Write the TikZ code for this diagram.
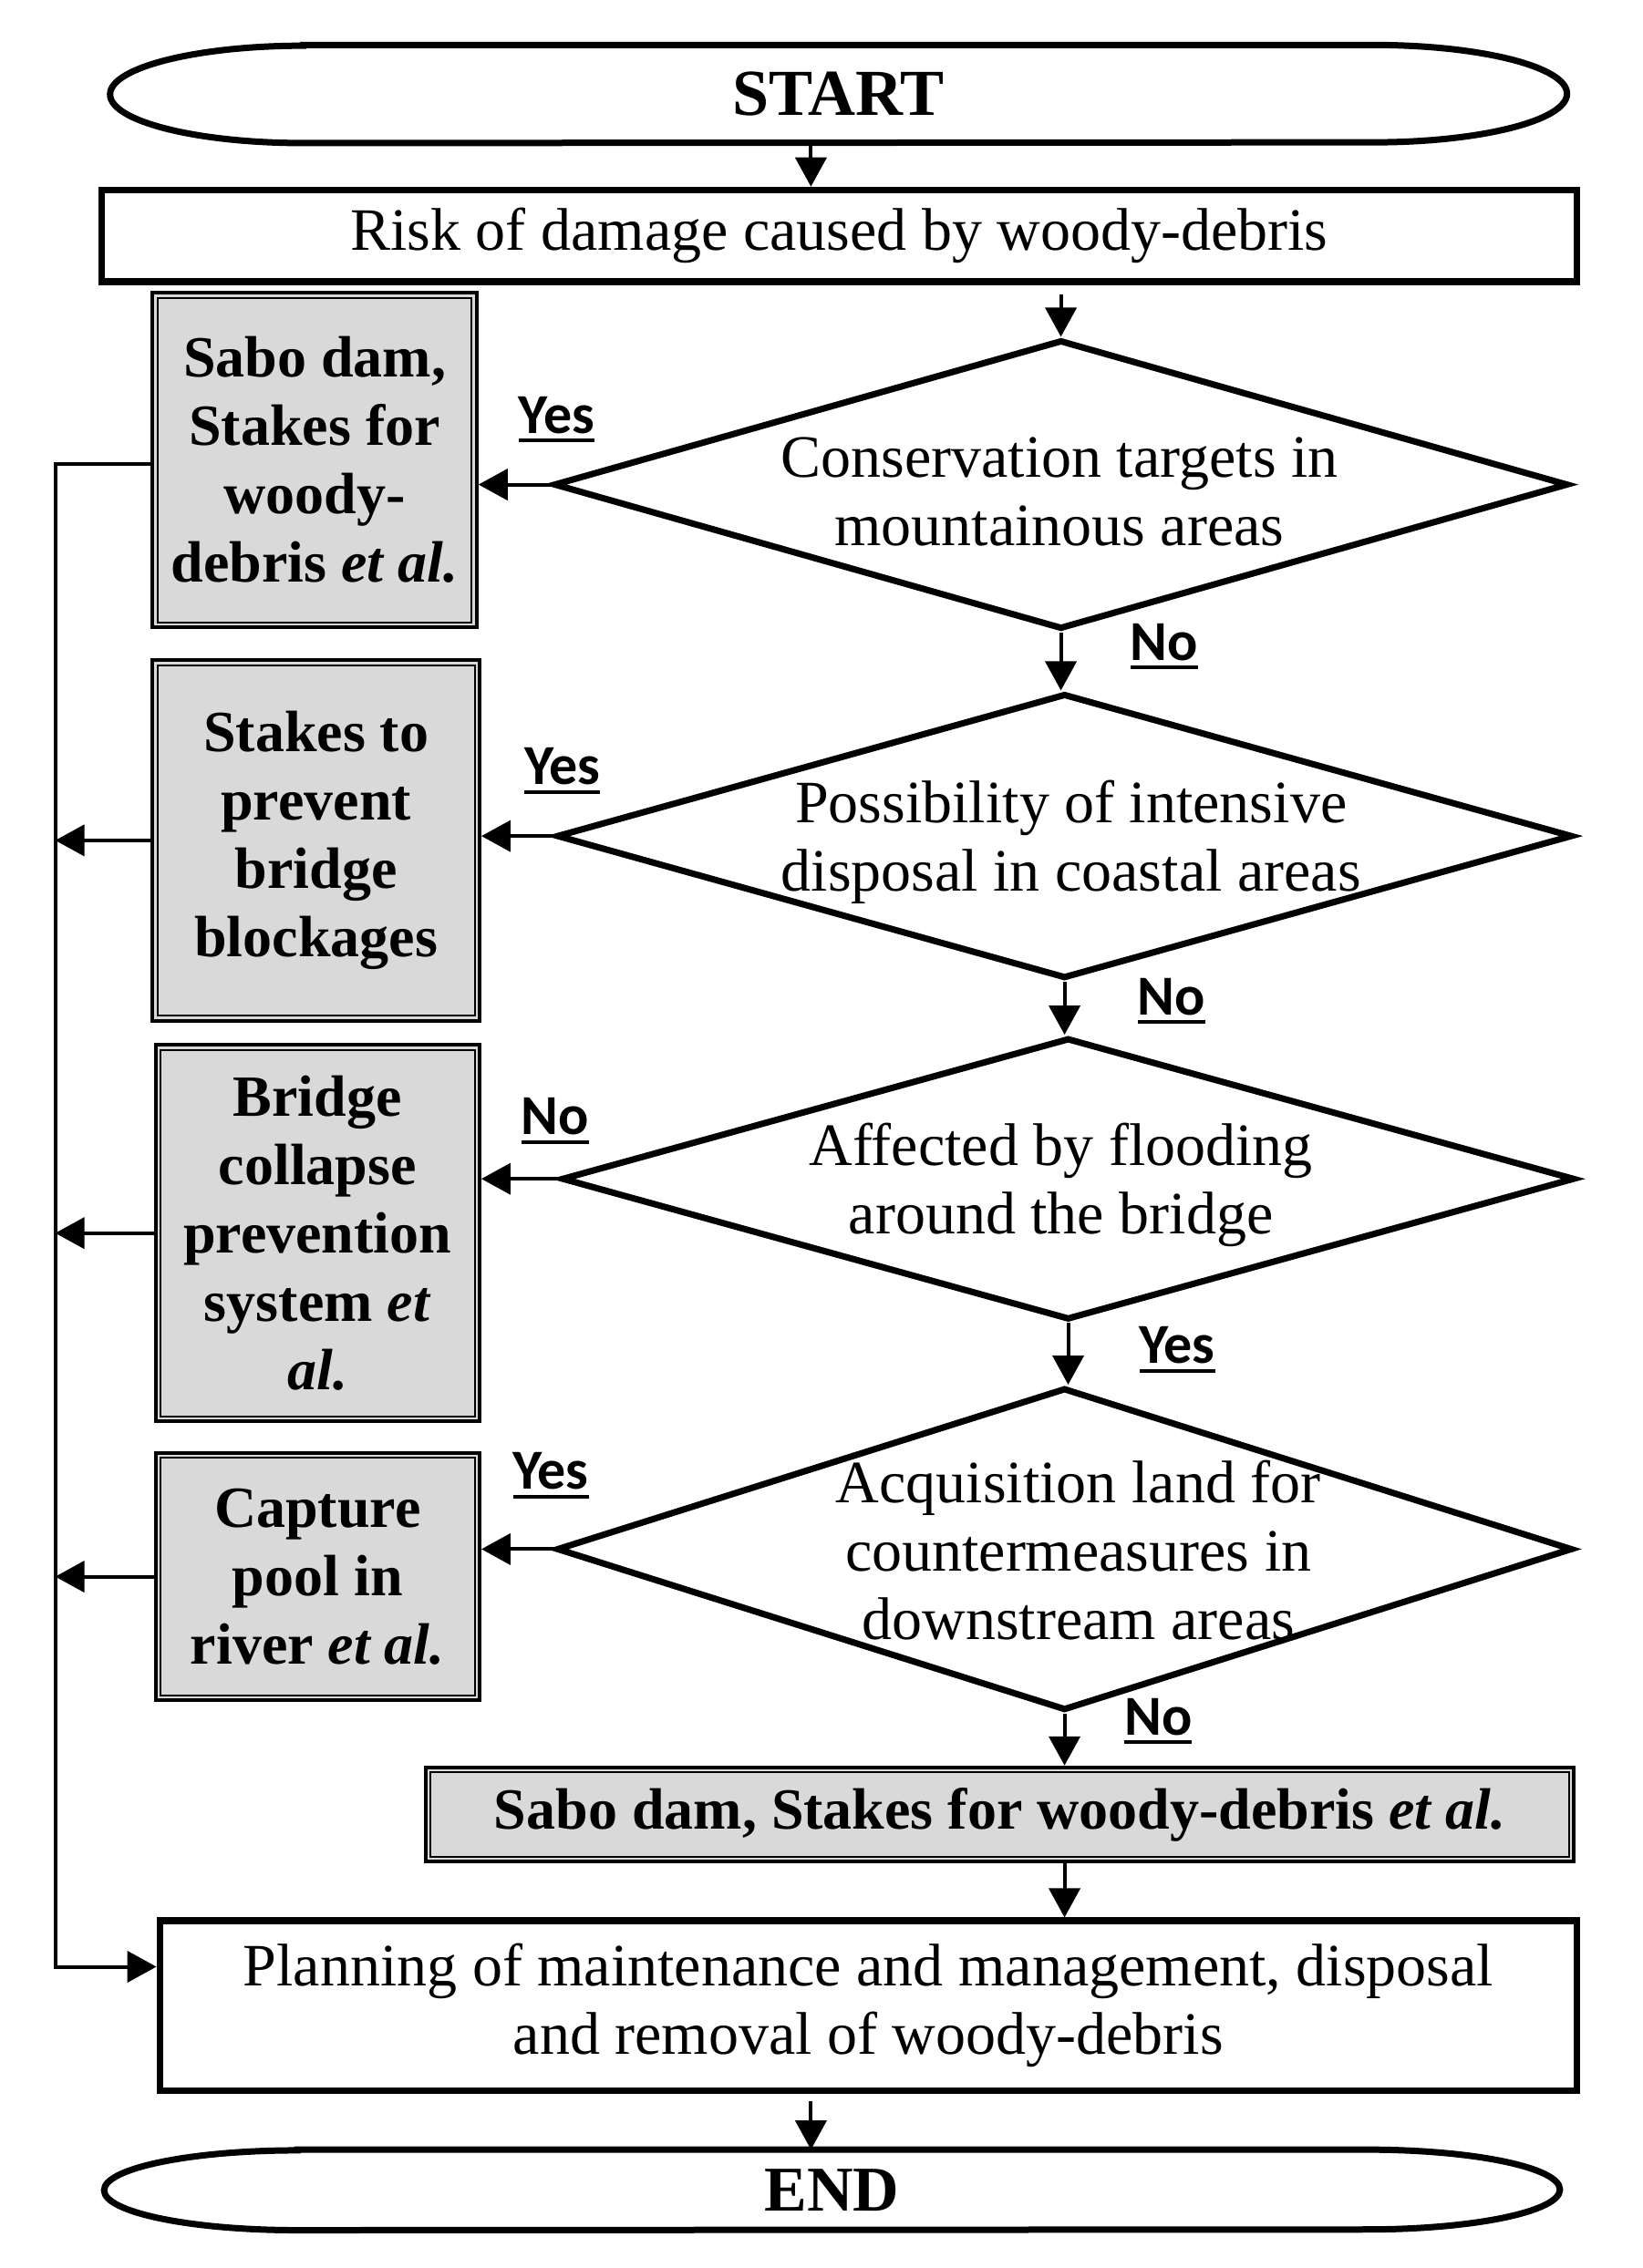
\documentclass[tikz,border=0pt]{standalone}
\usepackage{fontspec}
\setmainfont{Liberation Serif}
\newfontfamily\yesfont{Carlito}
\usetikzlibrary{arrows.meta,shapes.geometric,calc}
\definecolor{boxgray}{HTML}{D9D9D9}
\newcommand\mynorm{\fontsize{33}{37.5}\selectfont}
\newcommand\mybold{\fontsize{32}{37.5}\selectfont\bfseries}
\newcommand\mylab{\fontsize{31}{33}\selectfont\yesfont\bfseries}
\newcommand\myul[1]{\setbox0\hbox{#1}\leavevmode\rlap{\rule[-5pt]{\wd0}{2pt}}\box0}
\tikzset{
  conn/.style={line width=2pt},
  arr/.style={conn,-{Triangle[length=16pt,width=17pt]}},
  termbox/.style={rectangle, inner sep=0pt},
  termline/.style={line width=3.5pt},
  plainbox/.style={rectangle, draw, line width=3.7pt, align=center, font=\mynorm},
  graybox/.style={rectangle, draw, fill=boxgray, line width=2pt, align=center, font=\mybold},
  dia/.style={diamond, draw, line width=3.5pt, inner sep=0pt},
  dtext/.style={align=center, font=\mynorm, inner sep=0pt},
  lab/.style={font=\mylab, inner sep=0pt},
}
\begin{document}
\begin{tikzpicture}[x=0.797pt,y=-0.7934pt]
\useasboundingbox (0,0) rectangle (1130,1568);
\fill[white] (0,0) rectangle (1130,1568);
% terminals and boxes
\node[termbox, minimum width=798.6pt, minimum height=53.4pt, font=\fontsize{36}{40}\selectfont\bfseries] (start) at (577,65) {START};
\draw[termline] ([xshift=106pt]start.north west) -- ([xshift=-106pt]start.north east)
  arc[start angle=90,end angle=-90,x radius=106pt,y radius=26.7pt]
  -- ([xshift=106pt]start.south west)
  arc[start angle=270,end angle=90,x radius=106pt,y radius=26.7pt] -- cycle;
\node[plainbox, minimum width=809pt, minimum height=50.2pt] (risk) at (577.5,163) {Risk of damage caused by woody-debris};
% diamonds
\node[dia, minimum width=556.3pt, minimum height=158.6pt] (d1) at (730,335) {};
\node[dia, minimum width=557.1pt, minimum height=156.2pt] (d2) at (732.5,578) {};
\node[dia, minimum width=555.5pt, minimum height=154.6pt] (d3) at (735,815) {};
\node[dia, minimum width=557.1pt, minimum height=176.9pt] (d4) at (732.5,1071) {};
\node[dtext] (d1t) at (729,340) {Conservation targets in\\mountainous areas};
\node[dtext] (d2t) at (737,582) {Possibility of intensive\\disposal in coastal areas};
\node[dtext] (d3t) at (730,819) {Affected by flooding\\around the bridge};
\node[dtext] (d4t) at (742,1072) {Acquisition land for\\countermeasures in\\downstream areas};
% gray boxes
\node[graybox, minimum width=177.7pt, minimum height=183.3pt] (b1) at (216.5,318) {Sabo dam,\\Stakes for\\woody-\\debris \textit{et al.}};
\node[graybox, minimum width=179.3pt, minimum height=197.7pt] (b2) at (217.5,581) {Stakes to\\prevent\\bridge\\blockages};
\node[graybox, minimum width=177.7pt, minimum height=206.4pt] (b3) at (218.5,852.5) {Bridge\\collapse\\prevention\\system \textit{et}\\\textit{al.}};
\node[graybox, minimum width=177.7pt, minimum height=135.5pt] (b4) at (218.5,1090) {Capture\\pool in\\river \textit{et al.}};
\node[graybox, minimum width=629.6pt, minimum height=51.8pt] (b5) at (688,1254.5) {Sabo dam, Stakes for woody-debris \textit{et al.}};
\foreach \b in {b1,b2,b3,b4,b5}
  \draw[line width=1pt] ([shift={(4.6,4.6)}]\b.north west) rectangle ([shift={(-4.6,-4.6)}]\b.south east);
\node[plainbox, minimum width=777.1pt, minimum height=93.2pt] (plan) at (597.5,1386.7) {Planning of maintenance and management, disposal\\and removal of woody-debris};
\node[termbox, minimum width=798pt, minimum height=43.8pt, font=\fontsize{35}{40}\selectfont\bfseries] (end) at (572.5,1514) {END};
\draw[termline] ([xshift=106pt]end.north west) -- ([xshift=-106pt]end.north east)
  arc[start angle=90,end angle=-90,x radius=106pt,y radius=21.9pt]
  -- ([xshift=106pt]end.south west)
  arc[start angle=270,end angle=90,x radius=106pt,y radius=21.9pt] -- cycle;
% labels
\node[lab] (l1) at (383,290) {\myul{Yes}};
\node[lab] (l2) at (801,447) {\myul{No}};
\node[lab] (l3) at (387,533) {\myul{Yes}};
\node[lab] (l4) at (806,692) {\myul{No}};
\node[lab] (l5) at (382,775) {\myul{No}};
\node[lab] (l6) at (810,933) {\myul{Yes}};
\node[lab] (l7) at (379,1020) {\myul{Yes}};
\node[lab] (l8) at (797,1190) {\myul{No}};
% helper coordinates
\coordinate (A) at (558,0);
\coordinate (E) at (558,0);
\coordinate (L) at (38,0);
% connectors
\draw[arr] (start.south -| A) -- (risk.north -| A);
\draw[arr] ([yshift=-5pt]risk.south -| d1.north) -- (d1.north);
\draw[arr] (d1.south) -- (d1.south |- d2.north);
\draw[arr] (d2.south) -- (d2.south |- d3.north);
\draw[arr] (d3.south) -- (d3.south |- d4.north);
\draw[arr] (d4.south) -- (d4.south |- b5.north);
\draw[arr] (b5.south -| d4.south) -- (plan.north -| d4.south);
\draw[arr] ([yshift=-4pt]plan.south -| E) -- (end.north -| E);
\draw[arr] (d1.west) -- (b1.east |- d1.west);
\draw[arr] (d2.west) -- (b2.east |- d2.west);
\draw[arr] (d3.west) -- (b3.east |- d3.west);
\draw[arr] (d4.west) -- (b4.east |- d4.west);
\draw[arr] ([yshift=-2pt]b1.west) -- ([yshift=-2pt]b1.west -| L) |- ([shift={(0,-27)}]plan.west);
\draw[arr] (b2.west) -- (b2.west -| L);
\draw[arr] (b3.west) -- (b3.west -| L);
\draw[arr] (b4.west) -- (b4.west -| L);
\end{tikzpicture}
\end{document}
